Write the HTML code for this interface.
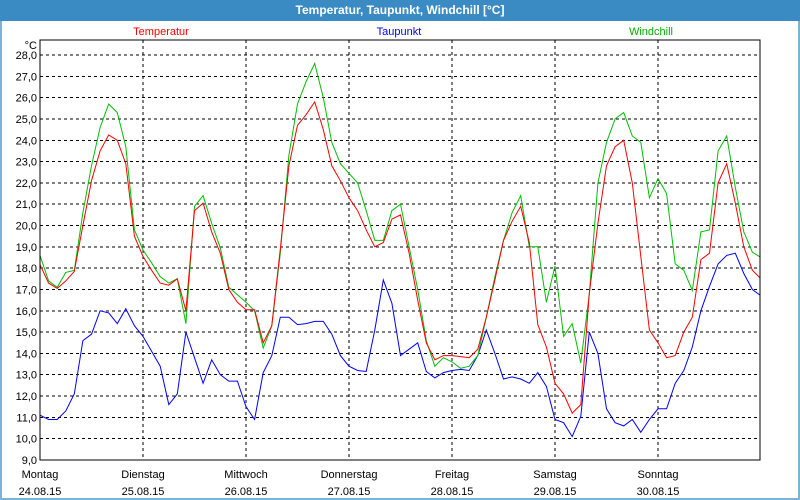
<!DOCTYPE html>
<html><head><meta charset="utf-8"><style>
body{margin:0;width:800px;height:500px;overflow:hidden;background:#fff;font-family:"Liberation Sans",sans-serif}
#frame{position:absolute;left:0;top:0;width:796px;height:496px;border:2px solid #7fb2d9;background:#fff}
#title{position:absolute;left:0;top:0;width:800px;height:21px;background:#3a8bc3;color:#fff;font-weight:bold;font-size:12px;line-height:21px;text-align:center}
svg{position:absolute;left:0;top:0}
</style></head><body>
<div id="frame"></div>
<div id="title">Temperatur, Taupunkt, Windchill [°C]</div>
<svg id="chart" width="800" height="500"></svg>
<script>
const yTicks=[9,10,11,12,13,14,15,16,17,18,19,20,21,22,23,24,25,26,27,28];
const dayNames=["Montag","Dienstag","Mittwoch","Donnerstag","Freitag","Samstag","Sonntag"];
const dayDates=["24.08.15","25.08.15","26.08.15","27.08.15","28.08.15","29.08.15","30.08.15"];
const hoursStep=2;
const temperatur=[18.16,17.3,17.05,17.4,17.85,20.0,22.1,23.5,24.25,24.0,22.9,19.5,18.55,17.9,17.3,17.2,17.5,16.0,20.7,21.05,19.7,18.7,17.0,16.4,16.05,
16.05,14.5,15.3,18.9,22.8,24.7,25.2,25.8,24.5,22.8,22.1,21.3,20.7,19.8,19.0,19.2,20.3,20.5,18.7,16.5,14.5,13.7,13.9,13.9,
13.85,13.8,14.2,15.7,17.45,19.3,20.2,20.9,19.2,15.35,14.3,12.6,12.1,11.2,11.6,16.8,20.1,22.8,23.7,24.0,22.0,18.55,15.1,14.5,
13.8,13.9,15.0,15.7,18.4,18.7,22.0,22.9,21.05,19.0,17.9,17.5];
const windchill=[18.6,17.4,17.1,17.8,17.9,20.6,22.8,24.6,25.7,25.3,23.7,19.8,18.85,18.25,17.6,17.3,17.5,15.4,20.9,21.4,20.1,18.95,17.1,16.75,16.4,
16.0,14.25,15.3,18.7,23.3,25.7,26.75,27.6,26.0,23.9,22.9,22.45,22.0,20.7,19.3,19.3,20.7,21.0,19.0,17.0,14.6,13.4,13.8,13.6,
13.3,13.4,13.9,15.7,17.6,19.3,20.6,21.4,19.0,19.0,16.4,18.1,14.8,15.4,13.55,16.8,22.0,23.9,25.0,25.3,24.2,23.9,21.3,22.2,
21.5,18.2,17.9,16.95,19.7,19.8,23.5,24.2,21.8,19.7,18.75,18.5];
const taupunkt=[11.1,10.9,10.9,11.3,12.1,14.6,14.9,16.0,15.9,15.4,16.1,15.3,14.8,14.1,13.4,11.6,12.1,15.0,13.8,12.6,13.7,13.0,12.7,12.7,11.5,
10.9,13.1,13.9,15.7,15.7,15.35,15.4,15.5,15.5,14.9,13.9,13.4,13.2,13.15,15.1,17.45,16.35,13.9,14.2,14.5,13.15,12.85,13.1,13.2,
13.25,13.2,13.9,15.1,14.0,12.8,12.9,12.8,12.6,13.1,12.45,10.9,10.75,10.1,11.05,15.0,14.0,11.4,10.75,10.6,10.9,10.3,10.9,11.4,
11.4,12.6,13.2,14.3,16.0,17.15,18.2,18.6,18.7,17.75,17.0,16.7];

const L=40,R=760,T=40,B=460,dayW=103;
const yMin=9,yMax=28,yTop=55;
function yS(v){return B-(v-yMin)*(B-yTop)/(yMax-yMin);}
function xS(h){return L+h/24*dayW;}
const NS="http://www.w3.org/2000/svg";
const svg=document.getElementById('chart');
function mk(tag,attrs){const e=document.createElementNS(NS,tag);for(const k in attrs)e.setAttribute(k,attrs[k]);svg.appendChild(e);return e;}

const defs=mk('defs',{});
const cp=document.createElementNS(NS,'clipPath');cp.setAttribute('id','plotclip');
const cr=document.createElementNS(NS,'rect');cr.setAttribute('x',L);cr.setAttribute('y',T);cr.setAttribute('width',R-L);cr.setAttribute('height',B-T);
cp.appendChild(cr);defs.appendChild(cp);

yTicks.forEach(v=>{
  const y=yS(v);
  if(v>yMin){
    const g=mk('line',{x1:L,x2:R,y1:y,y2:y,stroke:'#000','stroke-dasharray':'3,3','stroke-width':1,'shape-rendering':'crispEdges'});
    
    
  }
  const t=mk('text',{x:37,y:y+4,'text-anchor':'end','font-size':11,fill:'#000'});
  t.textContent=v.toFixed(1).replace('.',',');
  
  
});
const unit=mk('text',{x:37,y:49,'text-anchor':'end','font-size':11,fill:'#000'});
unit.textContent='°C';



dayNames.forEach((n,i)=>{
  const x=xS(i*24);
  if(i>0){
    const g=mk('line',{x1:x,x2:x,y1:T,y2:B,stroke:'#000','stroke-dasharray':'3,3','stroke-width':1,'shape-rendering':'crispEdges'});
    
    
  }
  const t1=mk('text',{x:x,y:478,'text-anchor':'middle','font-size':11,fill:'#000'});
  t1.textContent=n;
  
  
  const t2=mk('text',{x:x,y:495,'text-anchor':'middle','font-size':11,fill:'#000'});
  t2.textContent=dayDates[i];
  
  
});

function series(arr,color,name){
  const pts=arr.map((v,i)=>xS(i*hoursStep).toFixed(1)+','+yS(v).toFixed(1)).join(' ');
  const p=mk('polyline',{points:pts,fill:'none',stroke:color,'stroke-width':1,'clip-path':'url(#plotclip)'});
  
  
}
series(taupunkt,'#0000ff','taupunkt-line');
series(windchill,'#00c000','windchill-line');
series(temperatur,'#ff0000','temperatur-line');

const box=mk('rect',{x:L,y:T,width:R-L,height:B-T,fill:'none',stroke:'#000','stroke-width':1,'shape-rendering':'crispEdges'});



[['Temperatur','#ff0000',161],['Taupunkt','#0000ff',399],['Windchill','#00b000',651]].forEach(l=>{
  const t=mk('text',{x:l[2],y:35,'text-anchor':'middle','font-size':11,fill:l[1]});
  t.textContent=l[0];
  
  
});
</script>
</body></html>
